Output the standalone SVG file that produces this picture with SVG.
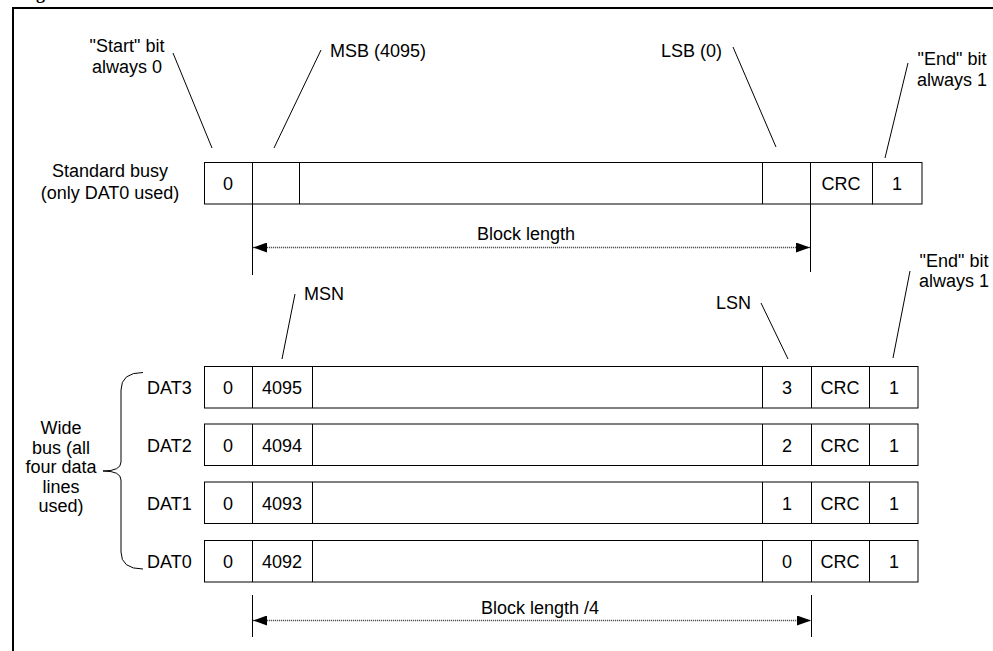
<svg xmlns="http://www.w3.org/2000/svg" width="993" height="651" viewBox="0 0 993 651">
<style>
text{font-family:"Liberation Sans",Arial,sans-serif;font-size:18px;fill:#000}
.c{text-anchor:middle}
.e{text-anchor:end}
.cell{fill:#fff;stroke:#000;stroke-width:1}
.ld{stroke:#000;stroke-width:1;fill:none}
.tick{stroke:#000;stroke-width:1}
.dim{stroke:#555;stroke-width:1.3;stroke-dasharray:1.2 0.8;fill:none}
</style>
<defs>
<marker id="ah" viewBox="0 0 14 10" refX="14" refY="5" markerWidth="14" markerHeight="10" markerUnits="userSpaceOnUse" orient="auto-start-reverse">
<path d="M0,0 L14,5 L0,10 z" fill="#000"/>
</marker>
</defs>
<rect width="993" height="651" fill="#fff"/>
<text x="36" y="-1" style="font-family:'Liberation Serif',serif;font-weight:bold">g</text>
<rect x="13" y="8" width="1000" height="700" fill="none" stroke="#000" stroke-width="2"/>

<g id="lbl-start"><text class="c" x="127" y="52">"Start" bit</text><text class="c" x="127" y="73">always 0</text></g>
<g id="lbl-msb"><text x="330" y="57">MSB (4095)</text></g>
<g id="lbl-lsb"><text class="e" x="722" y="57">LSB (0)</text></g>
<g id="lbl-end1"><text class="c" x="952" y="65">"End" bit</text><text class="c" x="952" y="86">always 1</text></g>
<g id="lbl-std"><text class="c" x="110" y="177">Standard busy</text><text class="c" x="110" y="199">(only DAT0 used)</text></g>

<g id="row-std">
<rect class="cell" x="204.5" y="162.5" width="668" height="41.5"/>
<rect class="cell" x="872.5" y="162.5" width="49.5" height="41.5"/>
<line class="tick" x1="252.5" y1="162.5" x2="252.5" y2="204"/>
<line class="tick" x1="299.5" y1="162.5" x2="299.5" y2="204"/>
<line class="tick" x1="762.5" y1="162.5" x2="762.5" y2="204"/>
<line class="tick" x1="810.5" y1="162.5" x2="810.5" y2="204"/>
<text class="c" x="228" y="190">0</text>
<text class="c" x="841" y="190">CRC</text>
<text class="c" x="897" y="190">1</text>
</g>

<g id="lbl-blk"><text class="c" x="526" y="240">Block length</text></g>
<g id="lbl-msn"><text x="304" y="300">MSN</text></g>
<g id="lbl-lsn"><text class="e" x="751" y="309">LSN</text></g>
<g id="lbl-end2"><text class="c" x="954" y="267">"End" bit</text><text class="c" x="954" y="287">always 1</text></g>

<g id="lbl-wide">
<text class="c" x="61" y="434">Wide</text>
<text class="c" x="61" y="453.5">bus (all</text>
<text class="c" x="61" y="473">four data</text>
<text class="c" x="61" y="492.5">lines</text>
<text class="c" x="61" y="512">used)</text>
<path class="ld" d="M143,372.5 Q121,372.5 121,390 L121,462 Q121,471 103,471 Q121,471 121,480 L121,552 Q121,569 143,569"/>
</g>

<g id="row-dat3">
<text x="147" y="394">DAT3</text>
<rect class="cell" x="204.5" y="366.5" width="713.5" height="41.5"/>
<line class="tick" x1="252.5" y1="366.5" x2="252.5" y2="408"/>
<line class="tick" x1="312.5" y1="366.5" x2="312.5" y2="408"/>
<line class="tick" x1="762.5" y1="366.5" x2="762.5" y2="408"/>
<line class="tick" x1="811.5" y1="366.5" x2="811.5" y2="408"/>
<line class="tick" x1="869.5" y1="366.5" x2="869.5" y2="408"/>
<text class="c" x="228" y="394">0</text><text class="c" x="282" y="394">4095</text><text class="c" x="787" y="394">3</text><text class="c" x="840" y="394">CRC</text><text class="c" x="894" y="394">1</text>
</g>
<g id="row-dat2">
<text x="147" y="451.5">DAT2</text>
<rect class="cell" x="204.5" y="424" width="713.5" height="41.5"/>
<line class="tick" x1="252.5" y1="424" x2="252.5" y2="465.5"/>
<line class="tick" x1="312.5" y1="424" x2="312.5" y2="465.5"/>
<line class="tick" x1="762.5" y1="424" x2="762.5" y2="465.5"/>
<line class="tick" x1="811.5" y1="424" x2="811.5" y2="465.5"/>
<line class="tick" x1="869.5" y1="424" x2="869.5" y2="465.5"/>
<text class="c" x="228" y="451.5">0</text><text class="c" x="282" y="451.5">4094</text><text class="c" x="787" y="451.5">2</text><text class="c" x="840" y="451.5">CRC</text><text class="c" x="894" y="451.5">1</text>
</g>
<g id="row-dat1">
<text x="147" y="509.5">DAT1</text>
<rect class="cell" x="204.5" y="482" width="713.5" height="41.5"/>
<line class="tick" x1="252.5" y1="482" x2="252.5" y2="523.5"/>
<line class="tick" x1="312.5" y1="482" x2="312.5" y2="523.5"/>
<line class="tick" x1="762.5" y1="482" x2="762.5" y2="523.5"/>
<line class="tick" x1="811.5" y1="482" x2="811.5" y2="523.5"/>
<line class="tick" x1="869.5" y1="482" x2="869.5" y2="523.5"/>
<text class="c" x="228" y="509.5">0</text><text class="c" x="282" y="509.5">4093</text><text class="c" x="787" y="509.5">1</text><text class="c" x="840" y="509.5">CRC</text><text class="c" x="894" y="509.5">1</text>
</g>
<g id="row-dat0">
<text x="147" y="567.5">DAT0</text>
<rect class="cell" x="204.5" y="540.5" width="713.5" height="41.5"/>
<line class="tick" x1="252.5" y1="540.5" x2="252.5" y2="582"/>
<line class="tick" x1="312.5" y1="540.5" x2="312.5" y2="582"/>
<line class="tick" x1="762.5" y1="540.5" x2="762.5" y2="582"/>
<line class="tick" x1="811.5" y1="540.5" x2="811.5" y2="582"/>
<line class="tick" x1="869.5" y1="540.5" x2="869.5" y2="582"/>
<text class="c" x="228" y="567.5">0</text><text class="c" x="282" y="567.5">4092</text><text class="c" x="787" y="567.5">0</text><text class="c" x="840" y="567.5">CRC</text><text class="c" x="894" y="567.5">1</text>
</g>

<g id="lbl-blk4"><text class="c" x="540" y="614">Block length /4</text></g>

<g id="connectors">
<line class="ld" x1="173" y1="53" x2="212" y2="148"/>
<line class="ld" x1="321" y1="50" x2="274" y2="148"/>
<line class="ld" x1="733" y1="47" x2="776" y2="147"/>
<line class="ld" x1="908" y1="63" x2="885" y2="158"/>
<line class="tick" x1="252.5" y1="204" x2="252.5" y2="275"/>
<line class="tick" x1="810.5" y1="204" x2="810.5" y2="272"/>
<line class="dim" x1="253" y1="247.5" x2="810" y2="247.5" marker-start="url(#ah)" marker-end="url(#ah)"/>
<line class="ld" x1="295" y1="294" x2="282" y2="359"/>
<line class="ld" x1="761" y1="303" x2="788" y2="359"/>
<line class="ld" x1="910" y1="271" x2="893" y2="358"/>
<line class="tick" x1="252.5" y1="595" x2="252.5" y2="637"/>
<line class="tick" x1="811.5" y1="595" x2="811.5" y2="637"/>
<line class="dim" x1="253" y1="620.5" x2="811" y2="620.5" marker-start="url(#ah)" marker-end="url(#ah)"/>
</g>
</svg>
